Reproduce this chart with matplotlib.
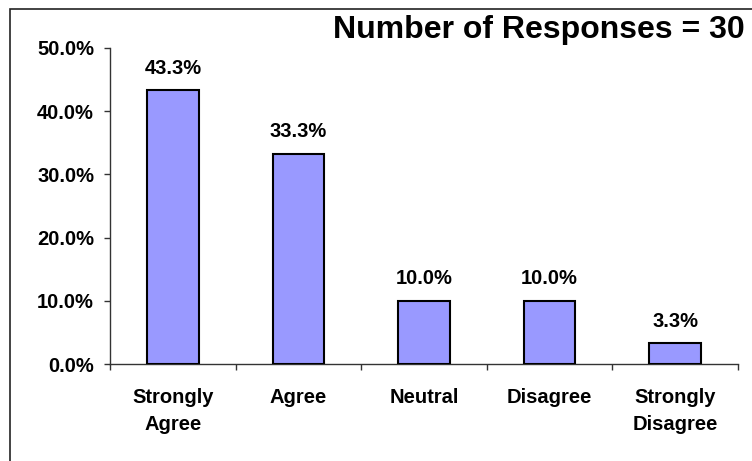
import matplotlib
matplotlib.use("Agg")
import matplotlib.pyplot as plt
from matplotlib.patches import Rectangle
from matplotlib.ticker import FixedLocator, FuncFormatter

categories = ["Strongly\nAgree", "Agree", "Neutral", "Disagree", "Strongly\nDisagree"]
percent = [43.3, 33.3, 10.0, 10.0, 3.3]
y_ticks = [0, 10, 20, 30, 40, 50]

plt.rcParams["font.family"] = ["Liberation Sans", "DejaVu Sans"]
plt.rcParams["font.weight"] = "bold"

fig = plt.figure(figsize=(7.52, 4.61), dpi=100)
ax = fig.add_axes([0.1463, 0.2104, 0.9814 - 0.1463, 0.8959 - 0.2104])

x = range(len(categories))
bars = ax.bar(x, percent, width=0.41, color="#9999FF", edgecolor="black", linewidth=1.5, zorder=3)
for xi, v in zip(x, percent):
    ax.annotate(f"{v:.1f}%", (xi, v), xytext=(0, 9), textcoords="offset points",
                ha="center", va="bottom", fontsize=14.5, fontweight="bold")

ax.set_xlim(-0.5, len(categories) - 0.5)
ax.set_ylim(0, 50)
ax.set_yticks(y_ticks)
ax.yaxis.set_major_formatter(FuncFormatter(lambda v, p: f"{v:.1f}%"))
ax.set_xticks(list(x))
ax.set_xticklabels(categories, fontsize=14.5, fontweight="bold", linespacing=1.55)
ax.xaxis.set_minor_locator(FixedLocator([i - 0.5 for i in range(len(categories) + 1)]))
ax.tick_params(axis="x", which="major", length=0, pad=17)
ax.tick_params(axis="x", which="minor", length=4.5, width=1, color="#333333", direction="out")
ax.tick_params(axis="y", length=4.5, width=1, color="#333333", pad=7, labelsize=14.5)
for lab in ax.get_yticklabels():
    lab.set_fontweight("bold")

for s in ("top", "right"):
    ax.spines[s].set_visible(False)
for s in ("left", "bottom"):
    ax.spines[s].set_color("#333333")
    ax.spines[s].set_linewidth(1)

fig.text(745 / 752, 1 - 30 / 461, "Number of Responses = 30", ha="right", va="center",
         fontsize=23, fontweight="bold")

# outer chart-area frame (runs off the right and bottom edges)
fig.patches.append(Rectangle((10 / 752, -0.2), 1.2, 0.2 + 1 - 9 / 461, transform=fig.transFigure,
                             fill=False, edgecolor="#222222", linewidth=1.2))

fig.savefig("out.png", dpi=100)
